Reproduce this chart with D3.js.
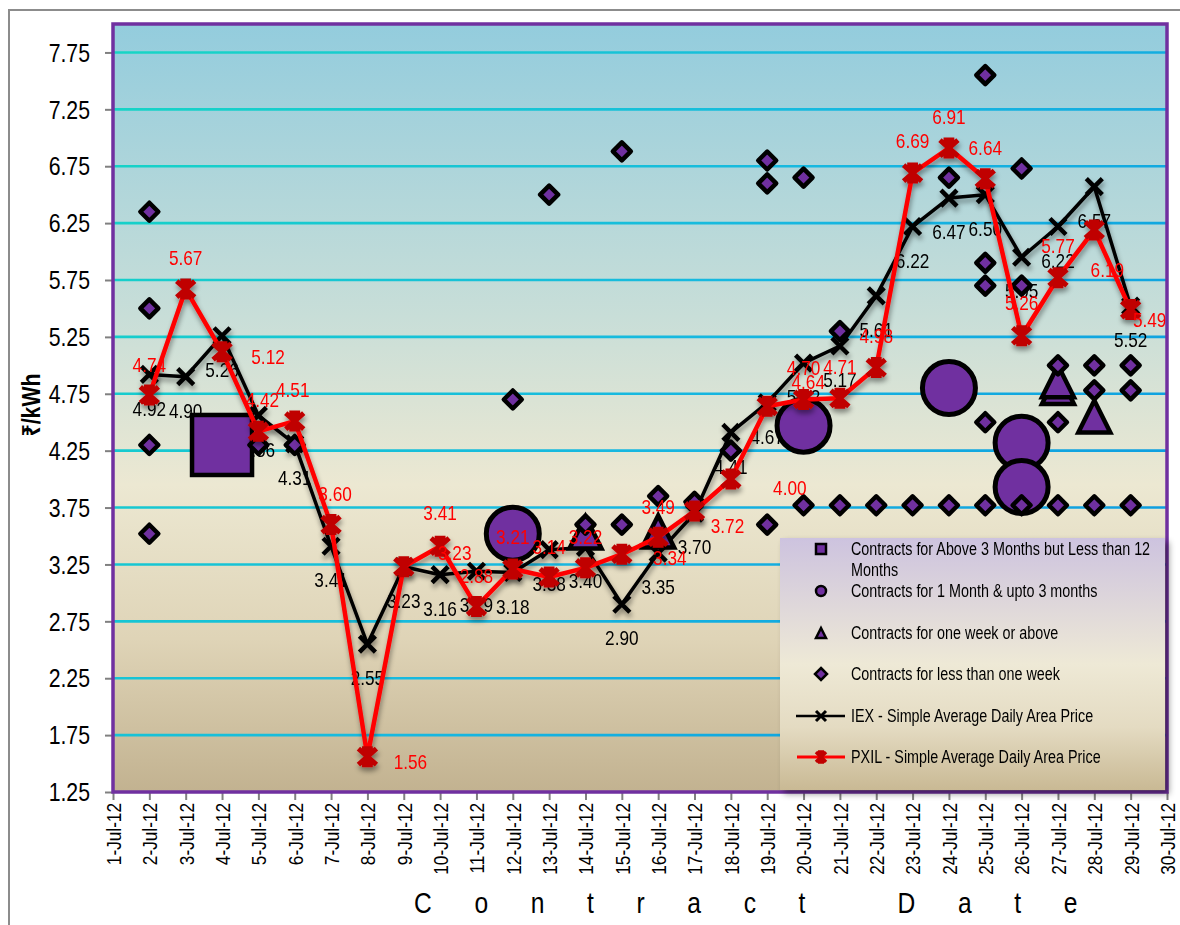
<!DOCTYPE html>
<html lang="en">
<head>
<meta charset="UTF-8">
<title>Contract prices - July 2012</title>
<style>
  body { margin: 0; background: #fff; }
  svg text { font-family: "Liberation Sans", Arial, "Noto Sans", sans-serif; }
</style>
</head>
<body>
<div id="chart"></div>
<script src="https://d3js.org/d3.v7.min.js"></script>
<script>
// ---- values ----
const days = [2, 3, 4, 5, 6, 7, 8, 9, 10, 11, 12, 13, 14, 15, 16, 17, 18, 19, 20, 21, 22, 23, 24, 25, 26, 27, 28, 29];
const iexPrice  = [4.92, 4.90, 5.26, 4.56, 4.31, 3.41, 2.55, 3.23, 3.16, 3.19, 3.18, 3.38, 3.40, 2.90,
                   3.35, 3.70, 4.41, 4.67, 5.02, 5.17, 5.61, 6.22, 6.47, 6.50, 5.95, 6.22, 6.57, 5.52];
const pxilPrice = [4.74, 5.67, 5.12, 4.42, 4.51, 3.60, 1.56, 3.23, 3.41, 2.88, 3.21, 3.14, 3.22, 3.34,
                   3.49, 3.72, 4.00, 4.64, 4.70, 4.71, 4.98, 6.69, 6.91, 6.64, 5.26, 5.77, 6.19, 5.49];

// bilateral contracts, by tenure
const above3mDays   = [4];
const above3mPrice  = [4.30];
const month1to3Days  = [12, 20, 24, 26, 26];
const month1to3Price = [3.52, 4.47, 4.80, 4.32, 3.93];
const weekPlusDays  = [14, 16, 27, 27, 28];
const weekPlusPrice = [3.53, 3.54, 4.80, 4.86, 4.55];
const underWeekDays  = [2, 2, 2, 2, 5, 6, 12, 13, 14, 15, 15, 16, 17, 18, 19, 19, 19, 20, 20, 21, 21, 22, 23,
                        24, 24, 25, 25, 25, 25, 25, 26, 26, 26, 27, 27, 27, 28, 28, 28, 29, 29, 29];
const underWeekPrice = [6.35, 5.50, 4.30, 3.52, 4.30, 4.30, 4.70, 6.50, 3.60, 6.88, 3.60, 3.85, 3.80, 4.25,
                        6.80, 6.60, 3.60, 6.65, 3.77, 5.30, 3.77, 3.77, 3.77, 6.65, 3.77, 7.55, 5.90, 5.70,
                        4.50, 3.77, 6.73, 5.70, 3.77, 5.00, 4.50, 3.77, 5.00, 4.78, 3.77, 5.00, 4.78, 3.77];

const yTicks = [1.25, 1.75, 2.25, 2.75, 3.25, 3.75, 4.25, 4.75, 5.25, 5.75, 6.25, 6.75, 7.25, 7.75];
const xTicks = [1, 2, 3, 4, 5, 6, 7, 8, 9, 10, 11, 12, 13, 14, 15, 16, 17, 18, 19, 20, 21, 22, 23, 24, 25, 26, 27, 28, 29, 30];
const legendLabels = [
  ["Contracts for Above 3 Months but Less than 12", "Months"],
  ["Contracts for 1 Month & upto 3 months"],
  ["Contracts for one week or above"],
  ["Contracts for less than one week"],
  ["IEX - Simple Average Daily Area Price"],
  ["PXIL - Simple Average Daily Area Price"]
];

// ---- layout ----
const W = 1180, H = 925;
const plot = {left: 113, top: 24, right: 1167, bottom: 792};
const purple = "#7030A0";
const NARROW = 0.82;   // no Arial Narrow here, so squeeze the text horizontally

// where the red labels were dragged to (relative to their point)
const pxilNudge = [[0,-30],[0,-31],[46,5],[4,-31],[-2,-31],[4,-31],[43,5],[51,-14],[0,-33],[0,-31],
                   [0,-32],[0,-30],[0,-31],[48,4],[0,-30],[33,15],[59,9],[41,-24],[0,-32],[0,-31],
                   [0,-32],[0,-32],[0,-31],[0,-31],[0,-33],[0,-32],[13,40],[19,10]];

const svg = d3.select("#chart").append("svg")
  .attr("width", W).attr("height", H);

const defs = svg.append("defs");

function gradient(id, stops, attrs) {
  const g = defs.append("linearGradient").attr("id", id);
  Object.entries(attrs).forEach(([k, v]) => g.attr(k, v));
  stops.forEach(s => g.append("stop").attr("offset", s[0]).attr("stop-color", s[1]));
}
gradient("plotBg", [[0, "#93CCDD"], [0.38, "#C8DED8"], [0.6, "#ECE8D2"], [0.8, "#DFD4B7"], [1, "#C2B290"]],
  {x1: 0, y1: 0, x2: 0, y2: 1});
gradient("gridCol", [[0, "#16D6C4"], [0.5, "#17B8E0"], [1, "#0A95E0"]],
  {gradientUnits: "userSpaceOnUse", x1: plot.left, y1: plot.top, x2: plot.right, y2: plot.bottom});
gradient("legendBg", [[0, "#CDC3DF"], [0.5, "#EEE9D6"], [0.75, "#E4DBC2"], [1, "#C9B994"]],
  {x1: 0, y1: 0, x2: 0, y2: 1});

const shadow = defs.append("filter").attr("id", "shadow")
  .attr("x", "-20%").attr("y", "-20%").attr("width", "140%").attr("height", "140%");
shadow.append("feDropShadow").attr("dx", 1).attr("dy", 4).attr("stdDeviation", 2.4)
  .attr("flood-color", "#000").attr("flood-opacity", 0.4);

const boxShadow = defs.append("filter").attr("id", "boxShadow")
  .attr("x", "-5%").attr("y", "-5%").attr("width", "115%").attr("height", "115%");
boxShadow.append("feDropShadow").attr("dx", 4).attr("dy", 4).attr("stdDeviation", 3)
  .attr("flood-color", "#000").attr("flood-opacity", 0.4);

// scales
const x = d3.scaleLinear().domain([1, 30]).range([plot.left, plot.right]);
const y = d3.scaleLinear().domain([1.25, 8]).range([plot.bottom, plot.top]);

// outer frame
svg.append("rect").attr("x", 9).attr("y", 10).attr("width", W + 20).attr("height", H + 20)
  .attr("fill", "none").attr("stroke", "#8C8C8C").attr("stroke-width", 2);

// plot background
svg.append("rect")
  .attr("x", plot.left).attr("y", plot.top)
  .attr("width", plot.right - plot.left).attr("height", plot.bottom - plot.top)
  .attr("fill", "url(#plotBg)");

// gridlines
svg.append("g").selectAll("line")
  .data(yTicks.slice(1))
  .join("line")
  .attr("x1", plot.left).attr("x2", plot.right)
  .attr("y1", d => y(d)).attr("y2", d => y(d))
  .attr("stroke", "url(#gridCol)").attr("stroke-width", 2.6);

// y axis
const yAxis = svg.append("g")
  .attr("transform", `translate(${plot.left},0)`)
  .call(d3.axisLeft(y).tickValues(yTicks).tickFormat(d3.format(".2f")).tickSize(8));
yAxis.select(".domain").remove();
yAxis.selectAll(".tick line").attr("stroke", "#808080").attr("stroke-width", 2);
yAxis.selectAll(".tick text")
  .attr("font-size", 25).attr("fill", "#000")
  .attr("x", 0).attr("dy", "0.35em")
  .attr("transform", `translate(-23,0) scale(0.85,1)`);

// x axis
const xAxis = svg.append("g")
  .attr("transform", `translate(0,${plot.bottom})`)
  .call(d3.axisBottom(x).tickValues(xTicks).tickFormat(d => d + "-Jul-12").tickSize(8));
xAxis.select(".domain").remove();
xAxis.selectAll(".tick line").attr("stroke", "#808080").attr("stroke-width", 2);
xAxis.selectAll(".tick text")
  .attr("font-size", 21).attr("fill", "#000")
  .attr("x", 0).attr("y", 0).attr("dy", "0.35em")
  .attr("transform", `rotate(-90) translate(-11,0) scale(${NARROW},1)`)
  .style("text-anchor", "end");

// axis titles
svg.append("text")
  .attr("transform", `translate(31,405) rotate(-90) scale(${NARROW},1)`)
  .attr("text-anchor", "middle").attr("dominant-baseline", "central")
  .attr("font-size", 26).attr("font-weight", "bold")
  .text("₹/kWh");

svg.append("text")
  .attr("transform", `translate(414,913) scale(${NARROW},1)`)
  .attr("font-size", 30).attr("letter-spacing", 52)
  .text("Contract Date");

// ---- IEX line ----
const iexData = days.map((d, i) => ({day: d, v: iexPrice[i]}));
const pxilData = days.map((d, i) => ({day: d, v: pxilPrice[i]}));
const line = d3.line().x(d => x(d.day)).y(d => y(d.v));

const crossPath = s => `M${-s},${-s}L${s},${s}M${-s},${s}L${s},${-s}`;
const starPath = (s, t) => `M${-s},${-t}L${s},${t}M${-s},${t}L${s},${-t}M0,${-t}L0,${t}M${-s*0.6},${-t}L${s*0.6},${-t}M${-s*0.6},${t}L${s*0.6},${t}`;

const iexG = svg.append("g").attr("filter", "url(#shadow)");
iexG.append("path").datum(iexData)
  .attr("d", line).attr("fill", "none")
  .attr("stroke", "#000").attr("stroke-width", 3.5).attr("stroke-linejoin", "round");
iexG.selectAll("path.mk").data(iexData).join("path").attr("class", "mk")
  .attr("transform", d => `translate(${x(d.day)},${y(d.v)})`)
  .attr("d", crossPath(8)).attr("stroke", "#000").attr("stroke-width", 4.5);

svg.append("g").selectAll("text").data(iexData).join("text")
  .attr("transform", d => `translate(${x(d.day)},${y(d.v) + 34}) scale(${NARROW},1)`)
  .attr("text-anchor", "middle").attr("dominant-baseline", "central")
  .attr("font-size", 21).attr("fill", "#000")
  .text(d => d.v.toFixed(2));

// ---- bilateral contract markers ----
const markers = svg.append("g").attr("fill", purple).attr("stroke", "#000");

markers.append("g").selectAll("rect")
  .data(above3mDays.map((d, i) => ({day: d, v: above3mPrice[i]})))
  .join("rect")
  .attr("x", d => x(d.day) - 30).attr("y", d => y(d.v) - 30)
  .attr("width", 60).attr("height", 60).attr("stroke-width", 4.5);

markers.append("g").selectAll("circle")
  .data(month1to3Days.map((d, i) => ({day: d, v: month1to3Price[i]})))
  .join("circle")
  .attr("cx", d => x(d.day)).attr("cy", d => y(d.v))
  .attr("r", 26.5).attr("stroke-width", 5);

const tri = (w, h) => `M0,${-h/2}L${w/2},${h/2}L${-w/2},${h/2}Z`;
markers.append("g").selectAll("path")
  .data(weekPlusDays.map((d, i) => ({day: d, v: weekPlusPrice[i]})))
  .join("path")
  .attr("transform", d => `translate(${x(d.day)},${y(d.v)})`)
  .attr("d", tri(32, 32)).attr("stroke-width", 4.5).attr("stroke-linejoin", "miter");

const diamond = s => `M0,${-s}L${s},0L0,${s}L${-s},0Z`;
markers.append("g").selectAll("path")
  .data(underWeekDays.map((d, i) => ({day: d, v: underWeekPrice[i]})))
  .join("path")
  .attr("transform", d => `translate(${x(d.day)},${y(d.v)})`)
  .attr("d", diamond(9)).attr("stroke-width", 4.5).attr("stroke-linejoin", "round");

// ---- PXIL line ----
const pxilG = svg.append("g").attr("filter", "url(#shadow)");
pxilG.append("path").datum(pxilData)
  .attr("d", line).attr("fill", "none")
  .attr("stroke", "#FF0000").attr("stroke-width", 4.5).attr("stroke-linejoin", "round");
pxilG.selectAll("path.mk").data(pxilData).join("path").attr("class", "mk")
  .attr("transform", d => `translate(${x(d.day)},${y(d.v)})`)
  .attr("d", starPath(9, 8)).attr("stroke", "#C00000").attr("stroke-width", 5);

svg.append("g").selectAll("text").data(pxilData).join("text")
  .attr("transform", (d, i) =>
    `translate(${x(d.day) + pxilNudge[i][0]},${y(d.v) + pxilNudge[i][1]}) scale(${NARROW},1)`)
  .attr("text-anchor", "middle").attr("dominant-baseline", "central")
  .attr("font-size", 21).attr("fill", "#FF0000")
  .text(d => d.v.toFixed(2));

// plot border
svg.append("rect")
  .attr("x", plot.left).attr("y", plot.top)
  .attr("width", plot.right - plot.left).attr("height", plot.bottom - plot.top)
  .attr("fill", "none").attr("stroke", purple).attr("stroke-width", 3.5);

// ---- legend ----
const lg = svg.append("g");
lg.append("rect").attr("x", 780).attr("y", 538).attr("width", 385).attr("height", 252)
  .attr("fill", "url(#legendBg)").attr("filter", "url(#boxShadow)");

const rowY = [549, 591, 633, 674, 716, 757];
const keyX = 821;
const keyG = lg.append("g").attr("fill", purple).attr("stroke", "#000").attr("stroke-width", 2.5);
keyG.append("rect").attr("x", keyX - 5).attr("y", rowY[0] - 5).attr("width", 10).attr("height", 10);
keyG.append("circle").attr("cx", keyX).attr("cy", rowY[1]).attr("r", 5);
keyG.append("path").attr("transform", `translate(${keyX},${rowY[2]})`).attr("d", tri(10, 10));
keyG.append("path").attr("transform", `translate(${keyX},${rowY[3]})`).attr("d", diamond(6));

lg.append("line").attr("x1", 796).attr("x2", 845).attr("y1", rowY[4]).attr("y2", rowY[4])
  .attr("stroke", "#000").attr("stroke-width", 2.5);
lg.append("path").attr("transform", `translate(${keyX},${rowY[4]})`)
  .attr("d", crossPath(5)).attr("stroke", "#000").attr("stroke-width", 3);
lg.append("line").attr("x1", 797).attr("x2", 845).attr("y1", rowY[5]).attr("y2", rowY[5])
  .attr("stroke", "#FF0000").attr("stroke-width", 3);
lg.append("path").attr("transform", `translate(${keyX},${rowY[5]})`)
  .attr("d", starPath(5, 5)).attr("stroke", "#C00000").attr("stroke-width", 3.5);

legendLabels.forEach((lines, i) => {
  lines.forEach((t, j) => {
    lg.append("text")
      .attr("transform", `translate(851,${rowY[i] + j * 21}) scale(${NARROW},1)`)
      .attr("dominant-baseline", "central")
      .attr("font-size", 17.5).attr("fill", "#000")
      .text(t);
  });
});
</script>
</body>
</html>
